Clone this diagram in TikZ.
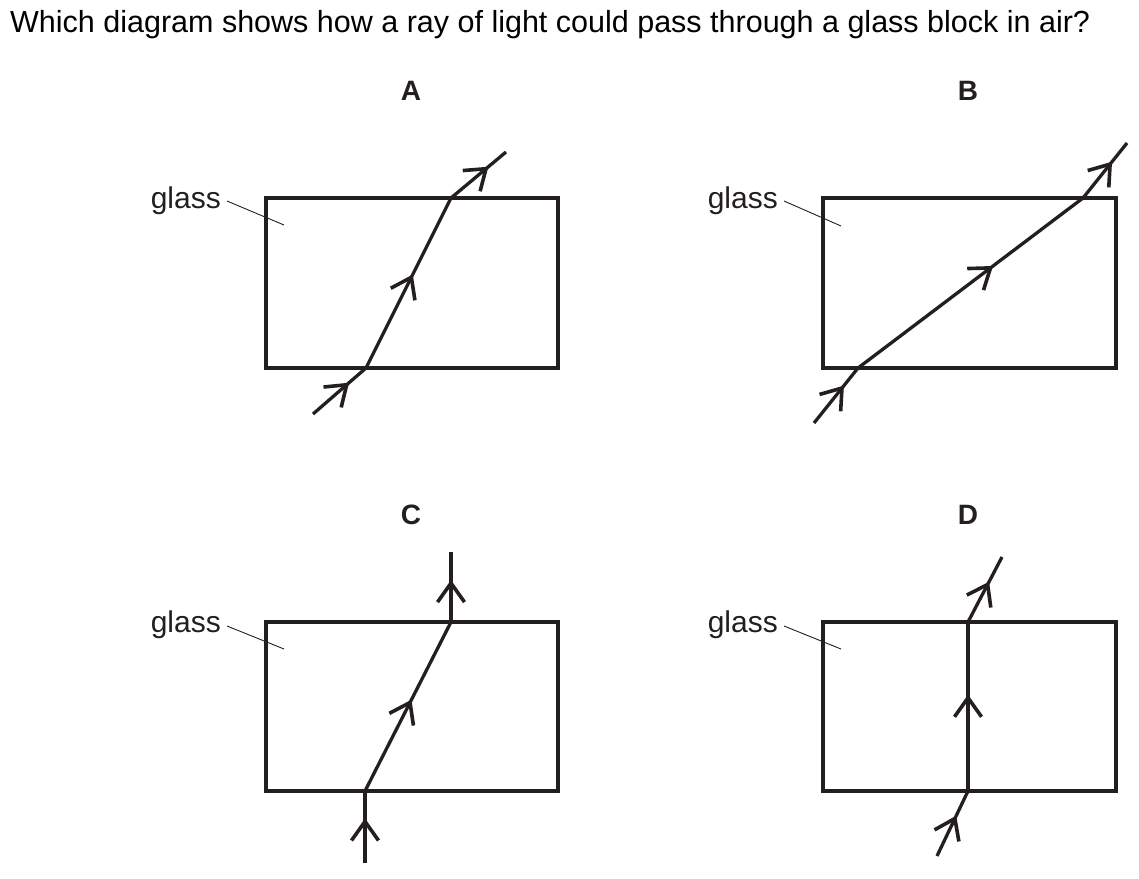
\documentclass[tikz,border=0pt]{standalone}
\usepackage{fontspec}
\setmainfont{Liberation Sans}
\usetikzlibrary{decorations.markings,arrows.meta}
\definecolor{ink}{HTML}{231F20}
\tikzset{
  box/.style={draw=ink, line width=3.4pt},
  ray/.style={draw=ink, line width=3.3pt, postaction={decorate},
    decoration={markings, mark=at position #1 with {\arrow{Straight Barb[length=19pt,width=27pt,line width=3.6pt]}}}},
  leader/.style={draw=ink, line width=0.9pt},
  lbl/.style={font=\fontsize{30.5}{34}\selectfont, text=black, inner sep=0pt},
  glab/.style={font=\fontsize{30}{34}\selectfont, text=ink, inner sep=0pt},
  head/.style={font=\fontsize{28}{32}\selectfont\bfseries, text=ink, inner sep=0pt},
}
\begin{document}
\begin{tikzpicture}[x=1pt,y=-1pt]
\useasboundingbox (0,0) rectangle (1139,878);
\node[lbl, anchor=base west] (title) at (10,32) {Which diagram shows how a ray of light could pass through a glass block in air?};
% labels
\node[head, anchor=base] (lA) at (411,100) {A};
\node[head, anchor=base] (lB) at (968,100) {B};
\node[head, anchor=base] (lC) at (411,524) {C};
\node[head, anchor=base] (lD) at (968,524) {D};
% A
\draw[box] (266,198) rectangle (558,368);
\node[glab, anchor=base east] (gA) at (221,208) {glass};
\coordinate (gAe) at (284,225);
\draw[leader] (227,201) -- (gAe);
\coordinate (a0) at (313,414);
\coordinate (a1) at (366,368);
\coordinate (a2) at (451,198);
\coordinate (a3) at (506,152);
\draw[ray=0.68] (a0) -- (a1);
\draw[ray=0.55] (a1) -- (a2);
\draw[ray=0.68] (a2) -- (a3);
% B
\draw[box] (823,198) rectangle (1116,368);
\node[glab, anchor=base east] (gB) at (778,208) {glass};
\coordinate (gBe) at (841,226);
\draw[leader] (784,201) -- (gBe);
\coordinate (b0) at (814,423);
\coordinate (b1) at (858,368);
\coordinate (b2) at (1083,198);
\coordinate (b3) at (1127,143);
\draw[ray=0.68] (b0) -- (b1);
\draw[ray=0.6] (b1) -- (b2);
\draw[ray=0.66] (b2) -- (b3);
% C
\draw[box] (266,622) rectangle (558,791);
\node[glab, anchor=base east] (gC) at (221,632) {glass};
\coordinate (gCe) at (284,649);
\draw[leader] (227,626) -- (gCe);
\coordinate (c0) at (365,863);
\coordinate (c1) at (365,791);
\coordinate (c2) at (451,622);
\coordinate (c3) at (451,552);
\draw[ray=0.62] (c0) -- (c1);
\draw[ray=0.54] (c1) -- (c2);
\draw[ray=0.6] (c2) -- (c3);
% D
\draw[box] (823,622) rectangle (1116,791);
\node[glab, anchor=base east] (gD) at (778,632) {glass};
\coordinate (gDe) at (841,649);
\draw[leader] (784,626) -- (gDe);
\coordinate (d0) at (937,856);
\coordinate (d1) at (968,791);
\coordinate (d2) at (968,622);
\coordinate (d3) at (1002,557);
\draw[ray=0.62] (d0) -- (d1);
\draw[ray=0.57] (d1) -- (d2);
\draw[ray=0.62] (d2) -- (d3);
\end{tikzpicture}
\end{document}
